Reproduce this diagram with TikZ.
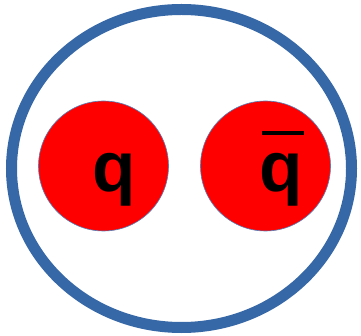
\documentclass[tikz,border=0pt]{standalone}
\usepackage{fontspec}
\setmainfont{Liberation Sans}
\usetikzlibrary{positioning}

\definecolor{ringblue}{RGB}{54,103,166}
\definecolor{edgeblue}{RGB}{79,129,189}

\tikzset{
  quark/.style={circle, fill=red, draw=edgeblue, line width=0.6pt,
    minimum size=130pt, inner sep=0pt},
  qlabel/.style={anchor=base, inner sep=0pt,
    font=\fontsize{71}{71}\selectfont\bfseries}
}

\begin{document}
\begin{tikzpicture}[x=1pt, y=-1pt]
  \useasboundingbox (0,0) rectangle (361,336);
  % the meson
  \draw[line width=11pt, ringblue] (181.5,168.5) ellipse [x radius=170, y radius=159];
  % quark and antiquark
  \node[quark] (quark) at (103.5,166) {};
  \node[quark] (antiquark) at (265.5,166) {};
  \node[qlabel] (qtext) at (114.5,191.5) {q};
  \node[qlabel] (qbartext) at (281.5,191.5) {q};
  \draw[line width=4pt] (261.5,133) -- (303.5,133);
\end{tikzpicture}
\end{document}
